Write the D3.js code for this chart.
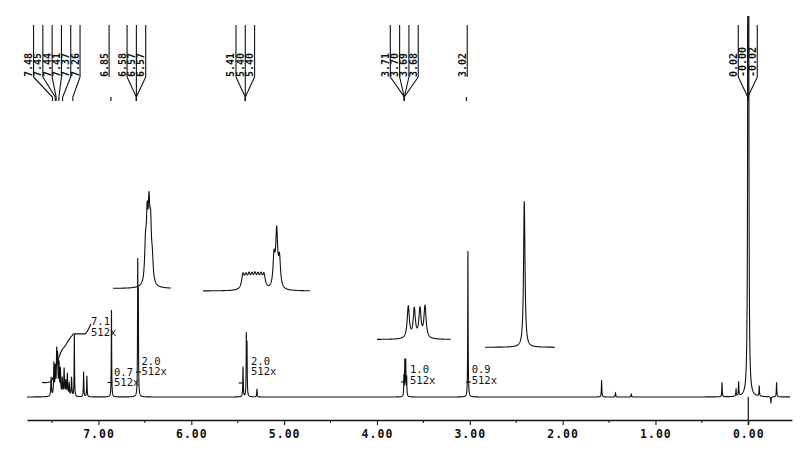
<!DOCTYPE html>
<html><head><meta charset="utf-8">
<script src="https://cdn.jsdelivr.net/npm/d3@7/dist/d3.min.js"></script>
<style>
body{margin:0;background:#fff}
svg{display:block}
text{font-family:"DejaVu Sans Mono","Liberation Mono",monospace;fill:#111}
</style>
</head><body>
<svg id="c" width="800" height="465"></svg>
<script>
// ---------------- DATA ----------------
// main spectrum peaks (ppm, intensity, half-width in ppm)
const peakPpm    = [7.51, 7.48, 7.465, 7.45, 7.44, 7.425, 7.41, 7.39, 7.37, 7.352, 7.335, 7.315, 7.29, 7.26,
                    7.16, 7.125, 6.86, 6.577, 6.571, 5.443, 5.407, 5.40, 5.293,
                    3.71, 3.70, 3.69, 3.68, 3.02, 1.58, 1.43, 1.26,
                    0.283, 0.132, 0.104, 0.0, -0.118, -0.244, -0.305];
const peakHeight = [5, 8.4, 7, 11, 9.5, 8, 6.6, 4.5, 7.1, 3.7, 5.8, 3.2, 5.0, 16.3,
                    6.6, 5.5, 22.9, 33, 24, 7.9, 15.5, 13, 2.1,
                    5, 9.2, 9.2, 5, 38.4, 4.3, 1.1, 0.8,
                    3.7, 1.8, 3.7, 2000, 2.7, -1.6, 3.8];
const peakWidth  = [0.004, 0.004, 0.004, 0.004, 0.004, 0.004, 0.004, 0.004, 0.004, 0.004, 0.004, 0.004, 0.004, 0.0025,
                    0.003, 0.003, 0.0025, 0.0025, 0.0025, 0.003, 0.0025, 0.0025, 0.003,
                    0.0025, 0.0025, 0.0025, 0.0025, 0.0025, 0.003, 0.003, 0.003,
                    0.003, 0.003, 0.003, 0.0014, 0.003, 0.003, 0.003];

// axis
const tickValues = [7, 6, 5, 4, 3, 2, 1, 0];
const tickLabels = ["7.00", "6.00", "5.00", "4.00", "3.00", "2.00", "1.00", "0.00"];
const minorTicks = [7.5, 6.5, 5.5, 4.5, 3.5, 2.5, 1.5, 0.5];

// peak-pick labels (groups)
const labelGroups = [
  ["7.48", "7.45", "7.44", "7.41", "7.37", "7.26"],
  ["6.85"],
  ["6.58", "6.57", "6.57"],
  ["5.41", "5.40", "5.40"],
  ["3.71", "3.70", "3.69", "3.68"],
  ["3.02"],
  ["0.02", "-0.00", "-0.02"]
];

// integrals
const integralValues = ["7.1", "0.7", "2.0", "2.0", "1.0", "0.9"];
const integralScale  = "512x";
const integralTracePpm = [7.598, 7.522, 7.490, 7.458, 7.425, 7.393, 7.360, 7.328, 7.296, 7.264, 7.146, 7.114, 7.081];
const integralTraceVal = [3.76, 3.95, 5.0, 7.6, 10.5, 12.4, 13.4, 14.7, 15.8, 16.6, 16.6, 17.6, 19.2];

// expansion insets
const inset1Ppm    = [6.5647, 6.5598, 6.5545, 6.5498, 6.5448];
const inset1Height = [35, 58, 65, 50, 20];
const inset1Width  = [0.00293, 0.00293, 0.00293, 0.00293, 0.00293];

const inset2Ppm    = [5.4879, 5.4794, 5.4710, 5.4626, 5.4542, 5.4458, 5.4374, 5.4290, 5.4009, 5.3934, 5.3855];
const inset2Height = [14, 11, 11.5, 11, 11.5, 11, 11.5, 13, 30, 55, 28];
const inset2Width  = [0.00449, 0.00449, 0.00449, 0.00449, 0.00449, 0.00449, 0.00449, 0.00449, 0.00336, 0.00336, 0.00336];

const inset3Ppm    = [3.7098, 3.6992, 3.6892, 3.6803];
const inset3Height = [32, 29, 29, 32];
const inset3Width  = [0.00229, 0.00229, 0.00229, 0.00229];

const inset4Ppm    = [3.0102];
const inset4Height = [146];
const inset4Width  = [0.00195];

// ---------------- LAYOUT ----------------
const W = 800, H = 465;
const svg = d3.select("#c");
const INK = "#111";

const x = d3.scaleLinear().domain([7.77, -0.47]).range([27.0, 791.9]);
const y = d3.scaleLinear().domain([0, 100]).range([397, 17]);
const axisY = 420;

svg.append("defs").append("clipPath").attr("id", "clipTop")
  .append("rect").attr("x", 0).attr("y", 16).attr("width", W).attr("height", H);

function lorentzSum(ppm, P, Hh, Wd) {
  let s = 0;
  for (let i = 0; i < P.length; i++) {
    const d = (ppm - P[i]) / Wd[i];
    s += Hh[i] / (1 + d * d);
  }
  return s;
}

function sampleSpectrum(xs, P, Hh, Wd, x0, x1) {
  const pts = [];
  for (let px = x0; px <= x1 + 1e-9; px += 0.1) pts.push(xs.invert(px));
  P.forEach(p => { const px = xs(p); if (px >= x0 && px <= x1) pts.push(p); });
  pts.sort((a, b) => xs(a) - xs(b));
  return pts.map(p => [p, lorentzSum(p, P, Hh, Wd)]);
}

// main spectrum
const spec = sampleSpectrum(x, peakPpm, peakHeight, peakWidth, 27, 790);
svg.append("path")
  .attr("clip-path", "url(#clipTop)")
  .attr("d", d3.line().x(d => x(d[0])).y(d => y(d[1]))(spec))
  .attr("fill", "none").attr("stroke", INK).attr("stroke-width", 1.1);

// TMS reference line below baseline
svg.append("line")
  .attr("x1", x(0)).attr("x2", x(0)).attr("y1", y(0)).attr("y2", axisY + 5)
  .attr("stroke", INK).attr("stroke-width", 1.2);

// integral trace
const integ = integralTracePpm.map((p, i) => [p, integralTraceVal[i]]);
svg.append("path")
  .attr("d", d3.line().x(d => x(d[0])).y(d => y(d[1])).curve(d3.curveMonotoneX)(integ))
  .attr("fill", "none").attr("stroke", INK).attr("stroke-width", 1.1);

// integral labels
const intLabelPos = [[91, 322], [114, 372.7], [141.5, 361.7], [251, 361.7], [410, 370], [471.7, 370]];
const intDashPos  = [[42, 382.5], [107.5, 382.5], [136, 372], [238.5, 383], [401, 382], [466, 382]];
integralValues.forEach((v, i) => {
  const [lx, ly] = intLabelPos[i];
  svg.append("text").attr("x", lx).attr("y", ly).attr("dominant-baseline", "middle")
    .attr("font-size", 10.5).text(v);
  svg.append("text").attr("x", lx).attr("y", ly + 10.5).attr("dominant-baseline", "middle")
    .attr("font-size", 10.5).text(integralScale);
  const [dx, dy] = intDashPos[i];
  svg.append("line").attr("x1", dx).attr("x2", dx + 5).attr("y1", dy).attr("y2", dy)
    .attr("stroke", INK).attr("stroke-width", 1.1);
});

// insets
const insets = [
  {P: inset1Ppm, Hh: inset1Height, Wd: inset1Width, dom: [6.66, 6.49], rng: [113, 171], base: 288.5},
  {P: inset2Ppm, Hh: inset2Height, Wd: inset2Width, dom: [5.60, 5.30], rng: [203, 310], base: 291},
  {P: inset3Ppm, Hh: inset3Height, Wd: inset3Width, dom: [3.765, 3.635], rng: [377, 450.7], base: 339.5},
  {P: inset4Ppm, Hh: inset4Height, Wd: inset4Width, dom: [3.10, 2.94], rng: [485, 555], base: 347.3}
];
insets.forEach(ins => {
  const xs = d3.scaleLinear().domain(ins.dom).range(ins.rng);
  const ys = d3.scaleLinear().domain([0, 100]).range([ins.base, ins.base - 100]);
  const s = sampleSpectrum(xs, ins.P, ins.Hh, ins.Wd, ins.rng[0], ins.rng[1]);
  svg.append("path")
    .attr("d", d3.line().x(d => xs(d[0])).y(d => ys(d[1]))(s))
    .attr("fill", "none").attr("stroke", INK).attr("stroke-width", 1.1);
});

// peak-pick labels
const groupShift = [-4.4, -3.3, -1.7, -1.4, -1.0, -0.7, -0.5];
const lineTop = 25, lineBot = 77, convY = 97, stubY = 101, spacing = 9.3;
labelGroups.forEach((g, gi) => {
  const pxs = g.map(s => x(parseFloat(s)));
  const center = d3.mean(pxs) + groupShift[gi];
  const sp = gi === 6 ? 9.5 : spacing;
  g.forEach((s, i) => {
    const lx = center + (i - (g.length - 1) / 2) * sp;
    const px = pxs[i];
    svg.append("line").attr("x1", lx).attr("x2", lx).attr("y1", lineTop).attr("y2", lineBot)
      .attr("stroke", INK).attr("stroke-width", 1.1);
    if (g.length > 1) {
      const cx = gi === 0 ? px - 1.5 : d3.mean(pxs) + groupShift[gi];
      svg.append("path")
        .attr("d", `M${lx},${lineBot}L${cx},${convY}L${cx},${stubY}`)
        .attr("fill", "none").attr("stroke", INK).attr("stroke-width", 1.1);
    } else {
      svg.append("line").attr("x1", px - 1.5).attr("x2", px - 1.5).attr("y1", convY).attr("y2", stubY)
        .attr("stroke", INK).attr("stroke-width", 1.2);
    }
    svg.append("text")
      .attr("transform", `translate(${lx - 1.5},${lineBot}) rotate(-90)`)
      .attr("font-size", 10).attr("font-weight", "bold").text(s);
  });
});

// x axis
const ax = svg.append("g").attr("transform", `translate(0,${axisY})`)
  .call(d3.axisBottom(x).tickValues(tickValues).tickSize(5).tickSizeOuter(0)
    .tickFormat((d, i) => tickLabels[i]));
ax.select(".domain").attr("stroke", INK).attr("stroke-width", 1.3);
ax.selectAll(".tick line").attr("stroke", INK).attr("stroke-width", 1.1);
ax.selectAll(".tick text").attr("font-size", 11.5).attr("font-weight", "bold")
  .attr("font-family", "DejaVu Sans Mono, monospace")
  .attr("letter-spacing", 1).attr("fill", INK).attr("dy", "0.9em");
svg.append("g").selectAll("line").data(minorTicks).join("line")
  .attr("x1", d => x(d)).attr("x2", d => x(d)).attr("y1", axisY).attr("y2", axisY + 3)
  .attr("stroke", INK).attr("stroke-width", 1);
</script>
</body></html>
